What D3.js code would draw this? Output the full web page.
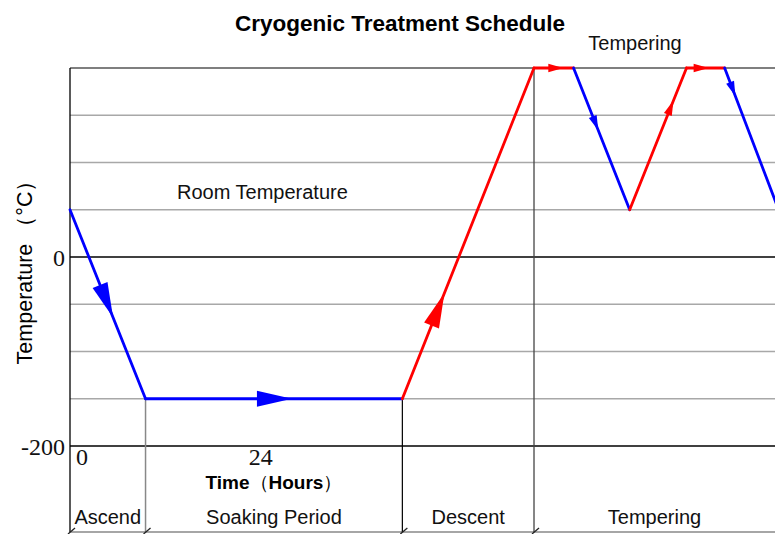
<!DOCTYPE html>
<meta charset="utf-8">
<style>
body { margin: 0; background: #fff; }
svg { display: block; font-family: "Liberation Sans", Arial, sans-serif; }
.grid { stroke: #a8a8a8; stroke-width: 1.3; }
.grid.major { stroke: #000; }
.grid.top { stroke: #555; }
.tick-label { font-family: "Liberation Serif", "Times New Roman", serif; font-size: 24px; fill: #111; }
.lbl { font-size: 20px; fill: #111; }
</style>
<body>
<script src="https://d3js.org/d3.v7.min.js"></script>
<script>
// schedule knots: time (hours) and temperature (°C)
var hours = [0, 10.5, 46.2, 64.5, 70, 77.8, 85.7, 91, 98.5];
var temps = [50, -150, -150, 200, 200, 50, 200, 200, 50];
// what each segment does: cooling / heating
var segKind = ["cool", "cool", "heat", "heat", "cool", "heat", "heat", "cool"];
// where the arrow tip sits along each segment (fraction) and its size
var arrowAt = [0.57, 0.57, 0.32, 0.74, 0.44, 0.77, 0.58, 0.2];
var arrowBig = [true, true, true, false, false, false, false, false];

var yGrid = [-150, -100, -50, 50, 100, 150];
var yTicks = [0, -200];
var xTicks = [0, 24];

var phases = ["Ascend", "Soaking Period", "Descent", "Tempering"];
var phaseBounds = [0, 10.5, 46.2, 64.5, 98];

var width = 775, height = 534;
var plotLeft = 70, plotTop = 68, plotBottom = 446, phaseBottom = 532;

var x = d3.scaleLinear().domain([0, 98]).range([plotLeft, width]);
var y = d3.scaleLinear().domain([-200, 200]).range([plotBottom, plotTop]);
var color = d3.scaleOrdinal().domain(["cool", "heat"]).range(["#0000ff", "#ff0000"]);

var svg = d3.select("body").append("svg")
    .attr("width", width)
    .attr("height", height);

// horizontal grid
svg.selectAll(".grid.h")
    .data(yGrid)
  .enter().append("line")
    .attr("class", "grid h")
    .attr("x1", plotLeft).attr("x2", width)
    .attr("y1", function(d) { return y(d); })
    .attr("y2", function(d) { return y(d); });

svg.selectAll(".grid.major")
    .data(yTicks)
  .enter().append("line")
    .attr("class", "grid major")
    .attr("x1", plotLeft).attr("x2", width)
    .attr("y1", function(d) { return y(d); })
    .attr("y2", function(d) { return y(d); });

svg.append("line")
    .attr("class", "grid top")
    .attr("x1", plotLeft).attr("x2", width)
    .attr("y1", y(200)).attr("y2", y(200));

// phase strip bottom line
svg.append("line")
    .attr("x1", plotLeft).attr("x2", width)
    .attr("y1", phaseBottom).attr("y2", phaseBottom)
    .style("stroke", "#888").style("stroke-width", 1.5);

// phase boundary lines
svg.append("line")
    .attr("x1", x(phaseBounds[1])).attr("x2", x(phaseBounds[1]))
    .attr("y1", y(-150)).attr("y2", phaseBottom)
    .style("stroke", "#888").style("stroke-width", 1.5);
svg.append("line")
    .attr("x1", x(phaseBounds[2])).attr("x2", x(phaseBounds[2]))
    .attr("y1", y(-150)).attr("y2", phaseBottom)
    .style("stroke", "#000").style("stroke-width", 1.2);
svg.append("line")
    .attr("x1", x(phaseBounds[3])).attr("x2", x(phaseBounds[3]))
    .attr("y1", plotTop).attr("y2", phaseBottom)
    .style("stroke", "#444").style("stroke-width", 1.3);

// left axis
svg.append("line")
    .attr("x1", plotLeft).attr("x2", plotLeft)
    .attr("y1", plotTop).attr("y2", phaseBottom)
    .style("stroke", "#000").style("stroke-width", 1.3);

// little slanted marks on the bottom line
svg.selectAll(".mark")
    .data(phaseBounds.slice(0, 4))
  .enter().append("line")
    .attr("x1", function(d) { return x(d) - 2; })
    .attr("x2", function(d) { return x(d) + 5; })
    .attr("y1", phaseBottom + 2)
    .attr("y2", phaseBottom - 4)
    .style("stroke", "#222").style("stroke-width", 1.3);

// schedule segments
var segs = [];
for (var i = 0; i < hours.length - 1; i++) {
  segs.push({
    x1: x(hours[i]), y1: y(temps[i]),
    x2: x(hours[i + 1]), y2: y(temps[i + 1]),
    kind: segKind[i], at: arrowAt[i], big: arrowBig[i]
  });
}

svg.selectAll(".seg")
    .data(segs)
  .enter().append("line")
    .attr("x1", function(d) { return d.x1; })
    .attr("y1", function(d) { return d.y1; })
    .attr("x2", function(d) { return d.x2; })
    .attr("y2", function(d) { return d.y2; })
    .style("stroke", function(d) { return color(d.kind); })
    .style("stroke-width", 2.8)
    .style("stroke-linecap", "round");

svg.selectAll(".arrow")
    .data(segs)
  .enter().append("polygon")
    .style("fill", function(d) { return color(d.kind); })
    .attr("points", function(d) {
      var dx = d.x2 - d.x1, dy = d.y2 - d.y1;
      var len = Math.sqrt(dx * dx + dy * dy);
      var ux = dx / len, uy = dy / len;
      var L = d.big ? 35 : 15, hw = d.big ? 8 : 4.2;
      var tx = d.x1 + dx * d.at, ty = d.y1 + dy * d.at;
      var bx = tx - ux * L, by = ty - uy * L;
      return [tx, ty, bx - uy * hw, by + ux * hw, bx + uy * hw, by - ux * hw].join(",");
    });

// tick labels
svg.selectAll(".ytick")
    .data(yTicks)
  .enter().append("text")
    .attr("class", "tick-label")
    .attr("x", plotLeft - 5)
    .attr("y", function(d) { return y(d) + 1; })
    .attr("dy", "0.35em")
    .style("text-anchor", "end")
    .text(function(d) { return d; });

svg.selectAll(".xtick")
    .data(xTicks)
  .enter().append("text")
    .attr("class", "tick-label")
    .attr("x", function(d) { return x(d) + 6; })
    .attr("y", 465)
    .text(function(d) { return d; });

// titles and labels
svg.append("text")
    .attr("x", 400).attr("y", 31)
    .style("text-anchor", "middle")
    .style("font-size", "22.5px").style("font-weight", "bold")
    .text("Cryogenic Treatment Schedule");

var xt = svg.append("text")
    .attr("x", 274).attr("y", 489)
    .style("text-anchor", "middle")
    .style("font-size", "19px");
xt.append("tspan").style("font-weight", "bold").text("Time");
xt.append("tspan").text("（");
xt.append("tspan").style("font-weight", "bold").text("Hours");
xt.append("tspan").text("）");

svg.append("text")
    .attr("transform", "translate(32,267) rotate(-90)")
    .style("text-anchor", "middle")
    .style("font-size", "21.5px")
    .text("Temperature （°C）");

svg.append("text")
    .attr("class", "lbl")
    .attr("x", 177).attr("y", 199)
    .text("Room Temperature");

svg.append("text")
    .attr("class", "lbl")
    .attr("x", 635).attr("y", 50)
    .style("text-anchor", "middle")
    .text("Tempering");

svg.selectAll(".phase")
    .data(phases)
  .enter().append("text")
    .attr("class", "lbl")
    .attr("x", function(d, i) { return (x(phaseBounds[i]) + x(phaseBounds[i + 1])) / 2; })
    .attr("y", 524)
    .style("text-anchor", "middle")
    .text(function(d) { return d; });
</script>
